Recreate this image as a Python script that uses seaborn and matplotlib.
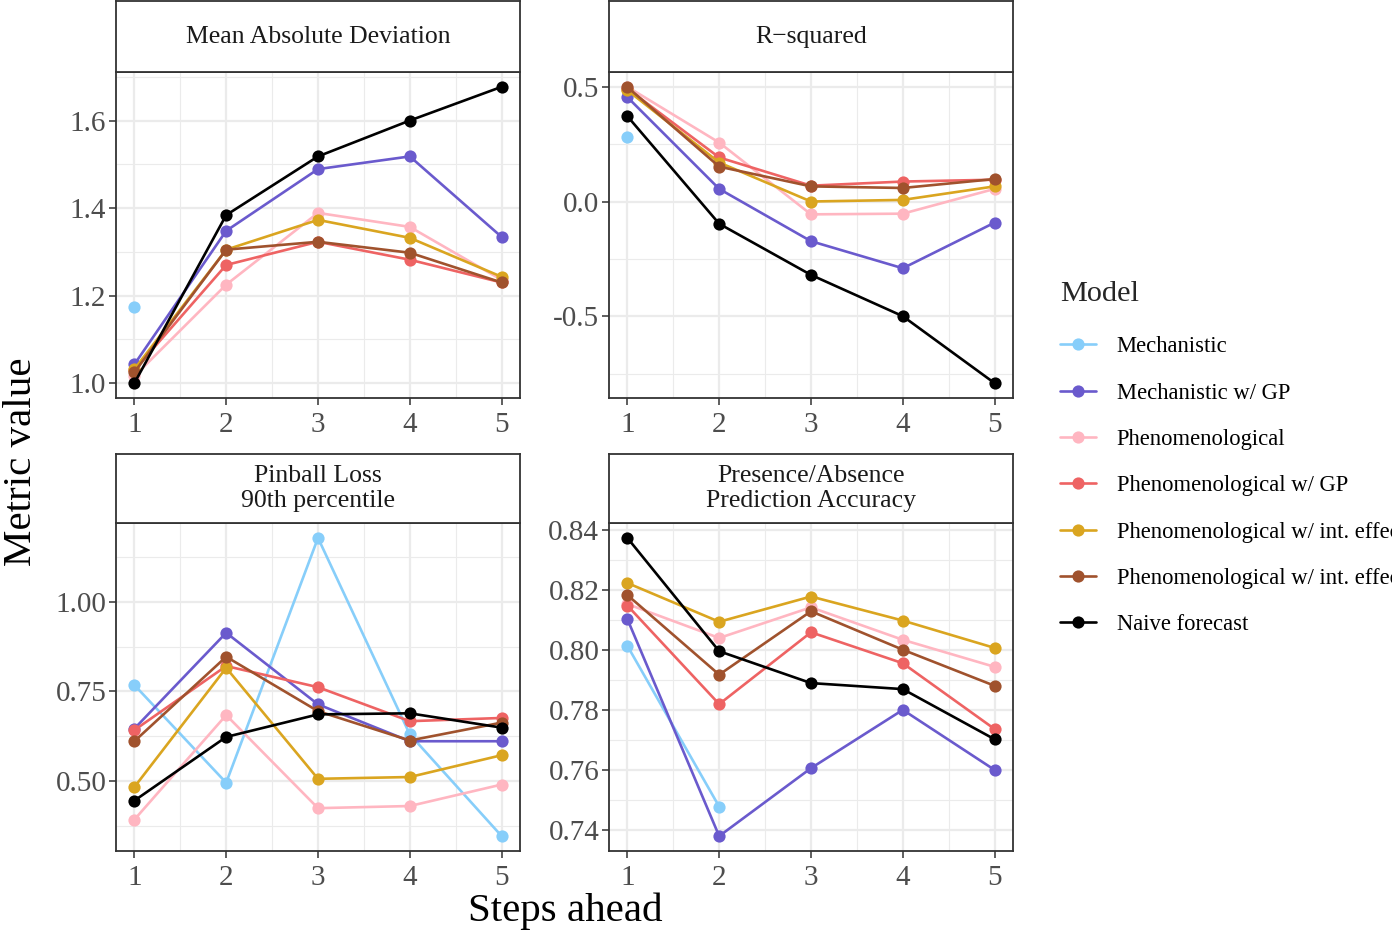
import numpy as np
import pandas as pd
import matplotlib
matplotlib.use("Agg")
import matplotlib.pyplot as plt
import seaborn as sns
from matplotlib.ticker import MultipleLocator, FormatStrFormatter
from matplotlib.lines import Line2D

nan = np.nan

steps = [1, 2, 3, 4, 5]

models = [
    "Mechanistic",
    "Mechanistic w/ GP",
    "Phenomenological",
    "Phenomenological w/ GP",
    "Phenomenological w/ int. effects",
    "Phenomenological w/ int. effects + GP",
    "Naive forecast",
]

model_colors = ["#87CEFA", "#6A5ACD", "#FFB6C1", "#EE6363", "#DAA520", "#A0522D", "#000000"]

mad_values = {
    "Mechanistic": [1.173, nan, nan, nan, nan],
    "Mechanistic w/ GP": [1.043, 1.348, 1.489, 1.518, 1.334],
    "Phenomenological": [1.016, 1.225, 1.389, 1.357, 1.236],
    "Phenomenological w/ GP": [1.030, 1.270, 1.323, 1.282, 1.230],
    "Phenomenological w/ int. effects": [1.032, 1.305, 1.373, 1.332, 1.243],
    "Phenomenological w/ int. effects + GP": [1.025, 1.305, 1.323, 1.298, 1.230],
    "Naive forecast": [1.000, 1.384, 1.518, 1.600, 1.677],
}

rsq_values = {
    "Mechanistic": [0.281, nan, nan, nan, nan],
    "Mechanistic w/ GP": [0.455, 0.055, -0.173, -0.291, -0.092],
    "Phenomenological": [0.500, 0.257, -0.056, -0.053, 0.055],
    "Phenomenological w/ GP": [0.492, 0.192, 0.069, 0.087, 0.095],
    "Phenomenological w/ int. effects": [0.485, 0.170, 0.000, 0.007, 0.066],
    "Phenomenological w/ int. effects + GP": [0.499, 0.152, 0.066, 0.059, 0.098],
    "Naive forecast": [0.372, -0.097, -0.320, -0.500, -0.792],
}

pinball_values = {
    "Mechanistic": [0.768, 0.495, 1.179, 0.630, 0.346],
    "Mechanistic w/ GP": [0.646, 0.914, 0.714, 0.611, 0.611],
    "Phenomenological": [0.392, 0.684, 0.424, 0.430, 0.490],
    "Phenomenological w/ GP": [0.642, 0.821, 0.762, 0.667, 0.676],
    "Phenomenological w/ int. effects": [0.483, 0.816, 0.506, 0.511, 0.572],
    "Phenomenological w/ int. effects + GP": [0.611, 0.847, 0.695, 0.613, 0.663],
    "Naive forecast": [0.445, 0.623, 0.686, 0.689, 0.649],
}

pa_values = {
    "Mechanistic": [0.8014, 0.7479, nan, nan, nan],
    "Mechanistic w/ GP": [0.8103, 0.7381, 0.7607, 0.7801, 0.7601],
    "Phenomenological": [0.8153, 0.8040, 0.8142, 0.8034, 0.7944],
    "Phenomenological w/ GP": [0.8148, 0.7820, 0.8059, 0.7956, 0.7737],
    "Phenomenological w/ int. effects": [0.8223, 0.8094, 0.8178, 0.8098, 0.8007],
    "Phenomenological w/ int. effects + GP": [0.8183, 0.7918, 0.8129, 0.8001, 0.7881],
    "Naive forecast": [0.8373, 0.7996, 0.7890, 0.7870, 0.7703],
}

panel_titles = ["Mean Absolute Deviation", "R\u2212squared",
                "Pinball Loss\n90th percentile", "Presence/Absence\nPrediction Accuracy"]

sns.set_theme(style="white")
plt.rcParams["font.family"] = ["Liberation Serif", "DejaVu Serif"]
plt.rcParams["axes.unicode_minus"] = True

W, H = 1392, 938
fig = plt.figure(figsize=(W / 100, H / 100), dpi=100)
fig.patch.set_facecolor("white")


def px_axes(l, t, r, b):
    return fig.add_axes([l / W, 1 - b / H, (r - l) / W, (b - t) / H])


palette = dict(zip(models, model_colors))
BORDER = "#333333"
GRID = "#EBEBEB"

panels = [
    (mad_values, panel_titles[0], (116, 72, 520, 398), 1, 0.2, "%.1f"),
    (rsq_values, panel_titles[1], (609, 72, 1013, 398), 1, 0.5, "%.1f"),
    (pinball_values, panel_titles[2], (116, 523, 520, 851), 454, 0.25, "%.2f"),
    (pa_values, panel_titles[3], (609, 523, 1013, 851), 454, 0.02, "%.2f"),
]

for values, title, (l, t, r, b), strip_top, major, fmt in panels:
    ax = px_axes(l, t, r, b)
    df = pd.DataFrame(
        [(m, s, v) for m in models for s, v in zip(steps, values[m])],
        columns=["Model", "Step", "Value"],
    ).dropna()
    sns.lineplot(
        data=df, x="Step", y="Value", hue="Model", hue_order=models,
        palette=palette, marker="o", markersize=8.8, markeredgewidth=0,
        linewidth=1.9, legend=False, ax=ax, errorbar=None, sort=False,
    )
    ax.set_xlim(0.8, 5.2)
    ax.margins(y=0.05)
    ax.set_xlabel("")
    ax.set_ylabel("")
    ax.xaxis.set_major_locator(MultipleLocator(1))
    ax.xaxis.set_minor_locator(MultipleLocator(0.5))
    ax.yaxis.set_major_locator(MultipleLocator(major))
    ax.yaxis.set_minor_locator(MultipleLocator(major / 2))
    ax.yaxis.set_major_formatter(FormatStrFormatter(fmt))
    ax.xaxis.set_major_formatter(FormatStrFormatter("%d"))
    ax.set_axisbelow(True)
    ax.grid(which="major", color=GRID, linewidth=1.6)
    ax.grid(which="minor", color=GRID, linewidth=0.8)
    ax.tick_params(which="major", length=5, width=1.1, color=BORDER,
                   labelsize=21, labelcolor="#4D4D4D", pad=2,
                   bottom=True, left=True)
    ax.tick_params(axis="x", which="major", pad=5)
    ax.tick_params(which="minor", length=0)
    for sp in ax.spines.values():
        sp.set_color(BORDER)
        sp.set_linewidth(1.3)
    # strip
    sax = px_axes(l, strip_top, r, t)
    sax.set_facecolor("white")
    sax.set_xticks([])
    sax.set_yticks([])
    for sp in sax.spines.values():
        sp.set_color(BORDER)
        sp.set_linewidth(1.3)
    sax.text(0.5, 0.5, title, ha="center", va="center", fontsize=18.5,
             color="#1A1A1A", linespacing=1.15, transform=sax.transAxes)

fig.text(565 / W, 1 - 911 / H, "Steps ahead", ha="center", va="center",
         fontsize=29.5, color="black")
fig.text(22 / W, 1 - 462 / H, "Metric value", ha="center", va="center",
         rotation=90, fontsize=29.5, color="black")

handles = [
    Line2D([0], [0], color=c, marker="o", markersize=8.8, markeredgewidth=0,
           linewidth=1.9)
    for c in model_colors
]
leg = fig.legend(
    handles, models, title="Model", loc="upper left",
    bbox_to_anchor=(1060 / W, 1 - 281 / H), frameon=False,
    fontsize=16.3, title_fontsize=21.8, handlelength=1.6,
    handletextpad=0.9, labelspacing=1.12, borderpad=0, borderaxespad=0,
    alignment="left",
)
leg._legend_box.sep = 21
for txt in leg.get_texts():
    txt.set_color("black")

fig.savefig("out.png", dpi=100)
